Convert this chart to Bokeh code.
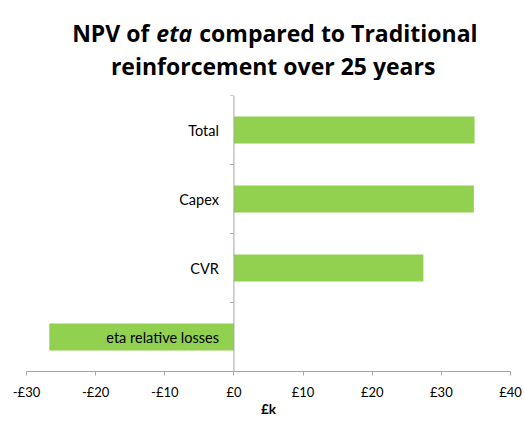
import numpy as np
from bokeh.plotting import figure
from bokeh.layouts import column
from bokeh.models import FactorRange, Range1d, Span, FixedTicker, ColumnDataSource
from bokeh.embed import file_html
from bokeh.resources import INLINE
from bokeh.core.properties import value

categories = ["Total", "Capex", "CVR", "eta relative losses"]
npv_values = [34.8, 34.7, 27.4, -26.7]
x_ticks = [-30, -20, -10, 0, 10, 20, 30, 40]
x_tick_labels = ["-£30", "-£20", "-£10", "£0", "£10", "£20", "£30", "£40"]
title_line1 = ["NPV of", "eta", "compared to Traditional"]
title_line2 = "reinforcement over 25 years"
x_axis_title = "£k"

FONT = "Lato"
TFONT = "Open Sans"
GREEN = "#92d050"
AXIS = "#a6a6a6"
TITLE_H = 80

# ---- title strip (a frame of its own, measured in pixels) ----
t = figure(width=524, height=TITLE_H, output_backend="svg", toolbar_location=None,
           x_range=Range1d(0, 524), y_range=Range1d(TITLE_H, 0),
           x_axis_location=None, y_axis_location=None,
           min_border=0, min_border_left=0, min_border_right=0,
           min_border_top=0, min_border_bottom=0)
t.outline_line_color = None
t.xgrid.visible = False
t.ygrid.visible = False
tk = dict(text_font=value(TFONT), text_font_size="23px", text_color="#000000",
          text_baseline="alphabetic")
t.text(x=[133], y=[32], text=[title_line1[0]], text_align="right",
       text_font_style="bold", **tk)
t.text(x=[160], y=[32], text=[title_line1[1]], text_align="center",
       text_font_style="bold italic", **tk)
t.text(x=[187], y=[32], text=[title_line1[2]], text_align="left",
       text_font_style="bold", **tk)
t.text(x=[267], y=[65], text=[title_line2], text_align="center",
       text_font_style="bold", **tk)

# ---- chart ----
p = figure(width=524, height=421 - TITLE_H, output_backend="svg", toolbar_location=None,
           x_range=Range1d(-30, 40),
           y_range=FactorRange(factors=categories[::-1], range_padding=0),
           y_axis_location=None,
           min_border_left=26, min_border_right=14, min_border_top=95 - TITLE_H,
           min_border_bottom=50)
p.outline_line_color = None
p.xgrid.visible = False
p.ygrid.visible = False

src = ColumnDataSource(dict(cat=categories, val=npv_values))
p.hbar(y="cat", left=0, right="val", height=0.39, source=src,
       fill_color=GREEN, line_color=None)

# vertical category axis at x = 0
p.add_layout(Span(location=0, dimension="height", line_color=AXIS, line_width=1))
bounds = list(range(len(categories) + 1))
p.ray(x=[0] * len(bounds), y=bounds, length=4, length_units="screen",
      angle=np.pi, line_color=AXIS, line_width=1)
p.text(x=[0] * len(categories), y=categories, text=categories, x_offset=-15,
       text_align="right", text_baseline="middle", text_font=value(FONT),
       text_font_size="14.5px", text_color="#000000")

ax = p.xaxis[0]
ax.ticker = FixedTicker(ticks=x_ticks)
ax.major_label_overrides = {t_: l for t_, l in zip(x_ticks, x_tick_labels)}
ax.axis_line_color = AXIS
ax.major_tick_line_color = AXIS
ax.major_tick_out = 4
ax.major_tick_in = 0
ax.minor_tick_line_color = None
ax.major_label_text_font = FONT
ax.major_label_text_font_size = "13px"
ax.major_label_text_color = "#000000"
ax.major_label_standoff = 8
ax.axis_label = x_axis_title
ax.axis_label_text_font = FONT
ax.axis_label_text_font_size = "13.5px"
ax.axis_label_text_font_style = "bold"
ax.axis_label_text_color = "#000000"
ax.axis_label_standoff = -2

layout = column(t, p, spacing=0)
open("out.html", "w").write(file_html(layout, INLINE))
